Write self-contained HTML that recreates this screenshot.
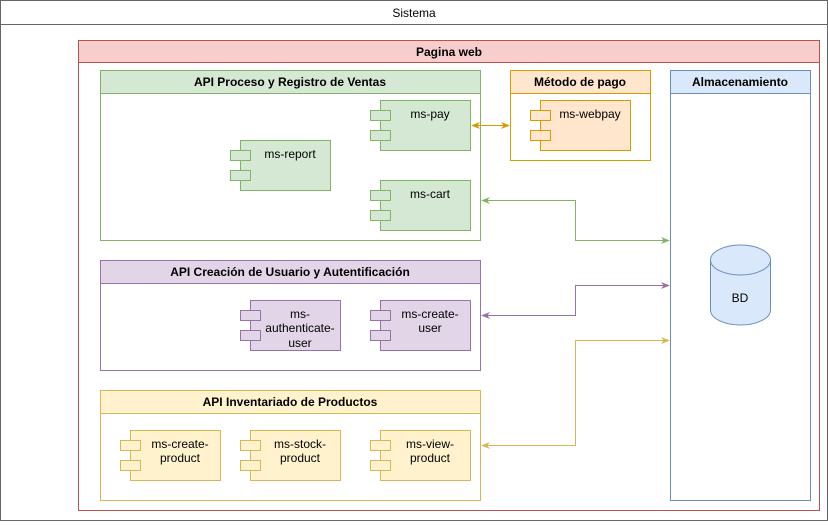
<!DOCTYPE html>
<html><head><meta charset="utf-8"><style>
body{margin:0;background:#fff}
text{font-family:"Liberation Sans",sans-serif;font-size:12px;fill:#000}
.b{font-weight:bold}
</style></head><body>
<svg width="828" height="521" viewBox="0 0 828 521" xmlns="http://www.w3.org/2000/svg">
<defs>
<marker id="ag" viewBox="0 0 10 10" refX="9" refY="5" markerWidth="9" markerHeight="9" orient="auto-start-reverse"><path d="M0,1 L10,5 L0,9 L3,5z" fill="#82b366"/></marker>
<marker id="ap" viewBox="0 0 10 10" refX="9" refY="5" markerWidth="9" markerHeight="9" orient="auto-start-reverse"><path d="M0,1 L10,5 L0,9 L3,5z" fill="#9673a6"/></marker>
<marker id="ay" viewBox="0 0 10 10" refX="9" refY="5" markerWidth="9" markerHeight="9" orient="auto-start-reverse"><path d="M0,1 L10,5 L0,9 L3,5z" fill="#d6b656"/></marker>
<marker id="ao" viewBox="0 0 10 10" refX="9" refY="5" markerWidth="9" markerHeight="9" orient="auto-start-reverse"><path d="M0,1 L10,5 L0,9 L3,5z" fill="#d79b00"/></marker>
</defs>
<!-- Sistema -->
<rect x="0.5" y="0.5" width="827" height="520" fill="#fff" stroke="#666"/>
<line x1="0" y1="24.5" x2="828" y2="24.5" stroke="#666"/>
<text x="414" y="17" text-anchor="middle">Sistema</text>
<!-- Pagina web -->
<rect x="78.5" y="40.5" width="741" height="470" fill="#fff" stroke="#b85450"/>
<rect x="78.5" y="40.5" width="741" height="22" fill="#f8cecc" stroke="#b85450"/>
<text class="b" x="449" y="56" text-anchor="middle">Pagina web</text>
<!-- API Proceso -->
<rect x="100.5" y="70.5" width="380" height="170" fill="#fff" stroke="#82b366"/>
<rect x="100.5" y="70.5" width="380" height="23" fill="#d5e8d4" stroke="#82b366"/>
<text class="b" x="290" y="86" text-anchor="middle">API Proceso y Registro de Ventas</text>
<g fill="#d5e8d4" stroke="#82b366">
<rect x="380.5" y="100.5" width="90" height="50"/><rect x="370.5" y="110.5" width="20" height="10"/><rect x="370.5" y="130.5" width="20" height="10"/>
<rect x="240.5" y="140.5" width="90" height="50"/><rect x="230.5" y="150.5" width="20" height="10"/><rect x="230.5" y="170.5" width="20" height="10"/>
<rect x="380.5" y="180.5" width="90" height="50"/><rect x="370.5" y="190.5" width="20" height="10"/><rect x="370.5" y="210.5" width="20" height="10"/>
</g>
<text x="430" y="118" text-anchor="middle">ms-pay</text>
<text x="290" y="158" text-anchor="middle">ms-report</text>
<text x="430" y="198" text-anchor="middle">ms-cart</text>
<!-- Metodo de pago -->
<rect x="510.5" y="70.5" width="140" height="90" fill="#fff" stroke="#d79b00"/>
<rect x="510.5" y="70.5" width="140" height="23" fill="#ffe6cc" stroke="#d79b00"/>
<text class="b" x="580" y="86" text-anchor="middle">Método de pago</text>
<g fill="#ffe6cc" stroke="#d79b00">
<rect x="540.5" y="100.5" width="90" height="50"/><rect x="530.5" y="110.5" width="20" height="10"/><rect x="530.5" y="130.5" width="20" height="10"/>
</g>
<text x="590" y="118" text-anchor="middle">ms-webpay</text>
<!-- Almacenamiento -->
<rect x="670.5" y="70.5" width="140" height="430" fill="#fff" stroke="#6c8ebf"/>
<rect x="670.5" y="70.5" width="140" height="23" fill="#dae8fc" stroke="#6c8ebf"/>
<text class="b" x="740" y="86" text-anchor="middle">Almacenamiento</text>
<path d="M710.5,260 A30,15 0 0 1 770.5,260 L770.5,310 A30,15 0 0 1 710.5,310 Z" fill="#dae8fc" stroke="#6c8ebf"/>
<path d="M710.5,260 A30,15 0 0 0 770.5,260" fill="none" stroke="#6c8ebf"/>
<text x="740" y="302" text-anchor="middle">BD</text>
<!-- API Creacion -->
<rect x="100.5" y="260.5" width="380" height="110" fill="#fff" stroke="#9673a6"/>
<rect x="100.5" y="260.5" width="380" height="23" fill="#e1d5e7" stroke="#9673a6"/>
<text class="b" x="290" y="276" text-anchor="middle">API Creación de Usuario y Autentificación</text>
<g fill="#e1d5e7" stroke="#9673a6">
<rect x="250.5" y="300.5" width="90" height="50"/><rect x="240.5" y="310.5" width="20" height="10"/><rect x="240.5" y="330.5" width="20" height="10"/>
<rect x="380.5" y="300.5" width="90" height="50"/><rect x="370.5" y="310.5" width="20" height="10"/><rect x="370.5" y="330.5" width="20" height="10"/>
</g>
<text x="300" y="318" text-anchor="middle">ms-</text>
<text x="300" y="332" text-anchor="middle">authenticate-</text>
<text x="300" y="347" text-anchor="middle">user</text>
<text x="430" y="318" text-anchor="middle">ms-create-</text>
<text x="430" y="332" text-anchor="middle">user</text>
<!-- API Inventariado -->
<rect x="100.5" y="390.5" width="380" height="110" fill="#fff" stroke="#d6b656"/>
<rect x="100.5" y="390.5" width="380" height="23" fill="#fff2cc" stroke="#d6b656"/>
<text class="b" x="290" y="406" text-anchor="middle">API Inventariado de Productos</text>
<g fill="#fff2cc" stroke="#d6b656">
<rect x="130.5" y="430.5" width="90" height="50"/><rect x="120.5" y="440.5" width="20" height="10"/><rect x="120.5" y="460.5" width="20" height="10"/>
<rect x="250.5" y="430.5" width="90" height="50"/><rect x="240.5" y="440.5" width="20" height="10"/><rect x="240.5" y="460.5" width="20" height="10"/>
<rect x="380.5" y="430.5" width="90" height="50"/><rect x="370.5" y="440.5" width="20" height="10"/><rect x="370.5" y="460.5" width="20" height="10"/>
</g>
<text x="180" y="448" text-anchor="middle">ms-create-</text><text x="180" y="462" text-anchor="middle">product</text>
<text x="300" y="448" text-anchor="middle">ms-stock-</text><text x="300" y="462" text-anchor="middle">product</text>
<text x="430" y="448" text-anchor="middle">ms-view-</text><text x="430" y="462" text-anchor="middle">product</text>
<!-- connectors -->
<path d="M472,125.5 L509,125.5" stroke="#d79b00" fill="none" marker-start="url(#ao)" marker-end="url(#ao)"/>
<path d="M482,200.5 L575.5,200.5 L575.5,240.5 L669,240.5" stroke="#82b366" fill="none" marker-start="url(#ag)" marker-end="url(#ag)"/>
<path d="M482,315.5 L575.5,315.5 L575.5,285.5 L669,285.5" stroke="#9673a6" fill="none" marker-start="url(#ap)" marker-end="url(#ap)"/>
<path d="M482,445.5 L575.5,445.5 L575.5,340.5 L669,340.5" stroke="#d6b656" fill="none" marker-start="url(#ay)" marker-end="url(#ay)"/>
</svg>
</body></html>
